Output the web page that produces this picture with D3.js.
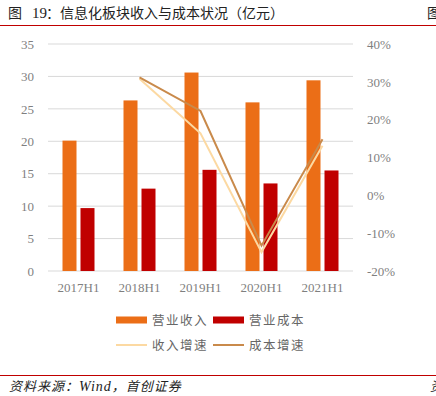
<!DOCTYPE html>
<html>
<head>
<meta charset="utf-8">
<script src="https://cdn.jsdelivr.net/npm/d3@7"></script>
<style>
  body { margin: 0; background: #fff; }
  #chart { width: 436px; height: 396px; }
</style>
</head>
<body>
<div id="chart"></div>
<script>
// data
const periods = ["2017H1", "2018H1", "2019H1", "2020H1", "2021H1"];
const revenue = [20.1, 26.3, 30.6, 26.0, 29.4];
const cost = [9.7, 12.7, 15.6, 13.5, 15.5];
const revenueGrowth = [null, 30.8, 16.4, -15.0, 13.1];
const costGrowth = [null, 31.2, 22.3, -13.3, 14.8];
const leftTicks = [0, 5, 10, 15, 20, 25, 30, 35];
const rightTicks = [-20, -10, 0, 10, 20, 30, 40];

const width = 436, height = 396;
const svg = d3.select("#chart").append("svg")
    .attr("width", width)
    .attr("height", height);

const serif = "'Liberation Serif', 'Times New Roman', serif";
const cjk = "'Noto Sans CJK SC', sans-serif";
const grey = "#7f7f7f";

// title + rules
const title = svg.append("text")
    .attr("x", 8).attr("y", 18)
    .attr("font-family", cjk).attr("font-size", 14).attr("fill", "#222");
title.append("tspan").text("图");
title.append("tspan").attr("x", 32).attr("font-family", serif).attr("font-size", 15).text("19");
title.append("tspan").attr("x", 46).text("：信息化板块收入与成本状况（亿元）");
svg.append("text")
    .attr("x", 427).attr("y", 18)
    .attr("font-family", cjk).attr("font-size", 14).attr("fill", "#222")
    .text("图");
svg.append("line")
    .attr("x1", 0).attr("x2", width).attr("y1", 25.5).attr("y2", 25.5)
    .attr("stroke", "#c00000").attr("stroke-width", 1);

const x = d3.scaleBand().domain(periods).range([48, 353]);
const y = d3.scaleLinear().domain([0, 35]).range([271, 44]);
const y2 = d3.scaleLinear().domain([-20, 40]).range([271, 44]);

// grid
svg.append("g").selectAll("line")
    .data(leftTicks)
    .join("line")
    .attr("x1", 48).attr("x2", 353)
    .attr("y1", d => y(d)).attr("y2", d => y(d))
    .attr("stroke", "#d9d9d9").attr("stroke-width", 1);

// left axis
const yAxis = svg.append("g")
    .attr("transform", "translate(48,0)")
    .call(d3.axisLeft(y).tickValues(leftTicks).tickSize(0).tickPadding(14));
yAxis.select(".domain").remove();
yAxis.selectAll("text")
    .attr("font-family", serif).attr("font-size", 13).attr("fill", grey);

// right axis
const y2Axis = svg.append("g")
    .attr("transform", "translate(353,0)")
    .call(d3.axisRight(y2).tickValues(rightTicks).tickSize(0).tickPadding(14)
        .tickFormat(d => d + "%"));
y2Axis.select(".domain").remove();
y2Axis.selectAll("text")
    .attr("font-family", serif).attr("font-size", 13).attr("fill", grey);

// x axis
const xAxis = svg.append("g")
    .attr("transform", "translate(0,271)")
    .call(d3.axisBottom(x).tickSize(0).tickPadding(12));
xAxis.select(".domain").remove();
xAxis.selectAll("text")
    .attr("font-family", serif).attr("font-size", 13).attr("fill", grey);

// bars
const barW = 14;
svg.append("g").selectAll("rect")
    .data(revenue)
    .join("rect")
    .attr("x", (d, i) => x(periods[i]) + x.bandwidth() / 2 - barW - 2)
    .attr("y", d => y(d))
    .attr("width", barW)
    .attr("height", d => y(0) - y(d))
    .attr("fill", "#eb6e17");

svg.append("g").selectAll("rect")
    .data(cost)
    .join("rect")
    .attr("x", (d, i) => x(periods[i]) + x.bandwidth() / 2 + 2)
    .attr("y", d => y(d))
    .attr("width", barW)
    .attr("height", d => y(0) - y(d))
    .attr("fill", "#c00000");

// growth lines
const line = d3.line()
    .defined(d => d[1] != null)
    .x(d => x(d[0]) + x.bandwidth() / 2)
    .y(d => y2(d[1]));

svg.append("path")
    .datum(periods.map((p, i) => [p, revenueGrowth[i]]))
    .attr("d", line)
    .attr("fill", "none")
    .attr("stroke", "#fcd9a2")
    .attr("stroke-width", 2);

svg.append("path")
    .datum(periods.map((p, i) => [p, costGrowth[i]]))
    .attr("d", line)
    .attr("fill", "none")
    .attr("stroke", "#c98a4b")
    .attr("stroke-width", 2);

// legend
const legend = [
    { name: "营业收入", color: "#eb6e17", type: "bar", x: 116, y: 320 },
    { name: "营业成本", color: "#c00000", type: "bar", x: 213, y: 320 },
    { name: "收入增速", color: "#fcd9a2", type: "line", x: 116, y: 345 },
    { name: "成本增速", color: "#c98a4b", type: "line", x: 213, y: 345 }
];
const lg = svg.append("g").selectAll("g")
    .data(legend)
    .join("g")
    .attr("transform", d => `translate(${d.x},${d.y})`);
lg.append("rect")
    .attr("x", 0)
    .attr("y", d => d.type == "bar" ? -3.5 : -1)
    .attr("width", 31)
    .attr("height", d => d.type == "bar" ? 7 : 2)
    .attr("fill", d => d.color);
lg.append("text")
    .attr("x", 36).attr("y", 4.5)
    .attr("font-family", cjk).attr("font-size", 12.5).attr("fill", "#666")
    .attr("letter-spacing", 1.5)
    .text(d => d.name);

// footer
svg.append("line")
    .attr("x1", 0).attr("x2", width).attr("y1", 375.5).attr("y2", 375.5)
    .attr("stroke", "#c00000").attr("stroke-width", 1);
const foot = svg.append("text")
    .attr("x", 9).attr("y", 391)
    .attr("font-family", cjk).attr("font-size", 13).attr("fill", "#222")
    .attr("font-style", "italic").attr("letter-spacing", 1);
foot.append("tspan").text("资料来源：");
foot.append("tspan").attr("font-family", serif).attr("font-size", 14).text("Wind");
foot.append("tspan").text("，首创证券");
svg.append("text")
    .attr("x", 430).attr("y", 391)
    .attr("font-family", cjk).attr("font-size", 13).attr("fill", "#222")
    .attr("font-style", "italic")
    .text("资");
</script>
</body>
</html>
